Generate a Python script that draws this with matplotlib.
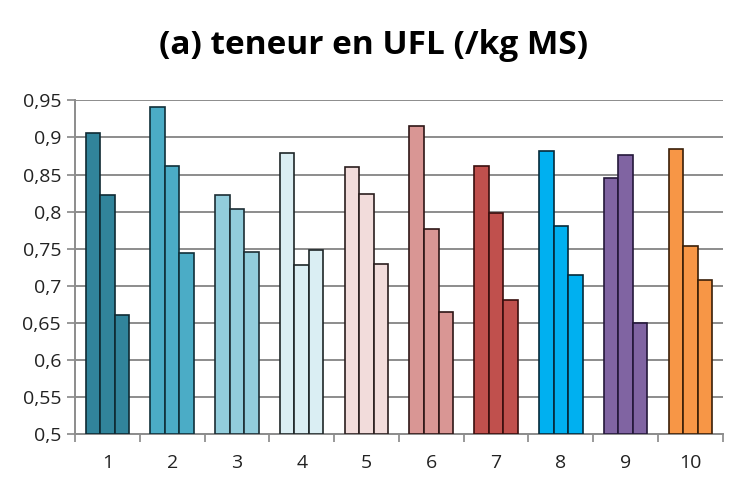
import matplotlib
matplotlib.use("Agg")
import matplotlib.pyplot as plt
import numpy as np

# data
groups = ["1", "2", "3", "4", "5", "6", "7", "8", "9", "10"]
bar_a = [0.906, 0.941, 0.822, 0.879, 0.860, 0.916, 0.862, 0.882, 0.845, 0.885]
bar_b = [0.822, 0.862, 0.804, 0.728, 0.824, 0.777, 0.798, 0.780, 0.876, 0.753]
bar_c = [0.661, 0.744, 0.746, 0.748, 0.730, 0.665, 0.681, 0.715, 0.650, 0.708]
yticks = [0.5, 0.55, 0.6, 0.65, 0.7, 0.75, 0.8, 0.85, 0.9, 0.95]

fills = ["#31849B", "#4BACC6", "#92CDDC", "#DAEEF3", "#F2DCDB",
         "#D99694", "#C0504D", "#00B0F0", "#8064A2", "#F79646"]
edges = ["#0f2a33", "#10303a", "#1c2d33", "#1e2628", "#2a1e1e",
         "#2e1616", "#3a0f0e", "#062a3a", "#24183a", "#3a1f08"]

fig = plt.figure(figsize=(7.47, 4.94), dpi=100)
ax = fig.add_axes([0.1004, 0.1209, 0.8671, 0.6761])

x = np.arange(len(groups))
w = 0.224
for off, vals in zip([-w, 0, w], [bar_a, bar_b, bar_c]):
    ax.bar(x + off, np.array(vals) - 0.5, bottom=0.5, width=w,
           color=fills, edgecolor=edges, linewidth=1.2, zorder=3)

ax.set_ylim(0.5, 0.95)
ax.set_xlim(-0.5, len(groups) - 0.5)
ax.set_yticks(yticks)
ax.set_yticklabels([("%g" % t).replace(".", ",") for t in yticks],
                   fontsize=14, family="Open Sans", color="#222222")
ax.set_xticks(x)
ax.set_xticklabels(groups, fontsize=14, family="Open Sans", color="#222222")
ax.set_xticks(np.arange(len(groups) + 1) - 0.5, minor=True)
ax.tick_params(axis="x", which="major", length=0, pad=14)
ax.tick_params(axis="x", which="minor", length=6, color="#888888", width=1.2)
ax.tick_params(axis="y", length=6, color="#888888", width=1.2, pad=4)

ax.grid(True, axis="y", color="#8c8c8c", linewidth=1.4, zorder=0)
for s in ["top", "right"]:
    ax.spines[s].set_visible(False)
for s in ["left", "bottom"]:
    ax.spines[s].set_color("#8c8c8c")
    ax.spines[s].set_linewidth(1.4)

fig.text(0.5, 0.908, "(a) teneur en UFL (/kg MS)", ha="center", va="center",
         fontsize=24, fontweight="bold", family="Open Sans", color="#000000")

plt.savefig("out.png", dpi=100)
